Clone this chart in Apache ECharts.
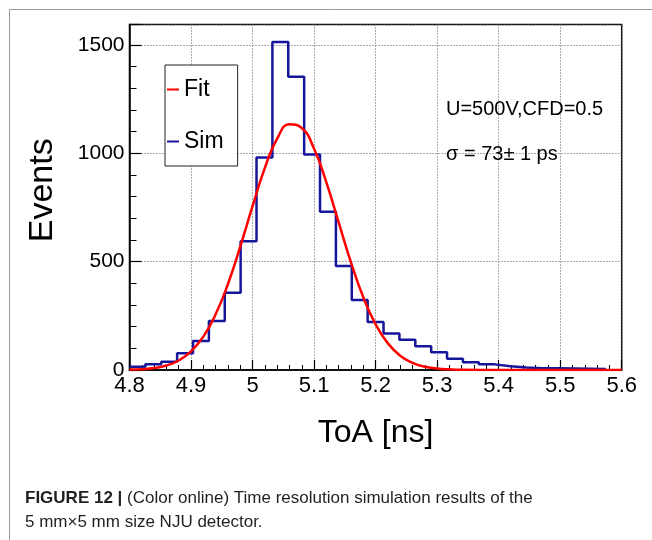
<!DOCTYPE html>
<html lang="en">

<head>
    <meta charset="UTF-8">
    <title>ToA</title>
    <style>
        html, body { margin: 0; padding: 0; background: #fff; }
        #toa-chart { width: 652px; height: 540px; }
    </style>
</head>

<body>
    <div id="toa-chart"></div>
    <script src="https://cdn.jsdelivr.net/npm/echarts@6/dist/echarts.min.js"></script>
    <script type="text/javascript">

        // histogram: 30 bins starting at 4.8 ns
        var binStart = 4.8;
        var binWidth = 0.8 / 31;
        var simCounts = [15, 26, 38, 77, 134, 226, 357, 594, 981, 1514, 1354, 995, 731, 480, 323,
            222, 169, 140, 110, 82, 52, 36, 26, 17, 12, 8, 8, 7, 6, 5];

        // fit curve
        var fitX = [4.80, 4.82, 4.84, 4.86, 4.88, 4.90, 4.92, 4.94, 4.96, 4.98, 5.00, 5.02, 5.04, 5.06,
            5.08, 5.10, 5.12, 5.14, 5.16, 5.18, 5.20, 5.22, 5.24, 5.26, 5.28, 5.30, 5.32, 5.34, 5.40, 5.50, 5.60];
        var fitY = [2, 4, 9, 21, 44, 86, 154, 257, 397, 569, 756, 933, 1068, 1134,
            1117, 1021, 866, 681, 497, 336, 211, 123, 66, 33, 15, 7, 3, 1, 0, 0, 0];

        var xTicks = [4.8, 5.6, 0.1];   // min, max, step
        var yTicks = [0, 1595, 500];

        var font = 'Liberation Sans, Arial, sans-serif';

        var simData = [];
        for (var i = 0; i < simCounts.length; i++) {
            simData.push([binStart + i * binWidth, simCounts[i]]);
        }
        simData.push([binStart + simCounts.length * binWidth, simCounts[simCounts.length - 1]]);

        var fitData = [];
        for (var j = 0; j < fitX.length; j++) {
            fitData.push([fitX[j], fitY[j]]);
        }

        var chart = echarts.init(document.getElementById('toa-chart'));

        var option = {
            animation: false,
            textStyle: { fontFamily: font },
            title: [
                {
                    text: 'U=500V,CFD=0.5', left: 446, top: 99, padding: 0,
                    textStyle: { fontSize: 20, fontWeight: 'normal', color: '#000', fontFamily: font }
                },
                {
                    text: 'σ = 73± 1 ps', left: 446, top: 144, padding: 0,
                    textStyle: { fontSize: 20, fontWeight: 'normal', color: '#000', fontFamily: font }
                }
            ],
            legend: {
                orient: 'vertical',
                left: 165,
                top: 65,
                padding: [13, 14, 13, 2],
                itemGap: 29,
                itemWidth: 12,
                itemHeight: 2,
                backgroundColor: '#fff',
                borderColor: '#222',
                borderWidth: 1,
                borderRadius: 0,
                textStyle: { fontSize: 23, color: '#000', fontFamily: font },
                data: [{ name: 'Fit', icon: 'rect' }, { name: 'Sim', icon: 'rect' }]
            },
            grid: {
                left: 129.5,
                right: 30.3,
                top: 24.5,
                bottom: 170,
                show: true,
                borderColor: '#000',
                borderWidth: 1.5,
                backgroundColor: 'transparent'
            },
            xAxis: {
                type: 'value',
                min: xTicks[0],
                max: xTicks[1],
                interval: xTicks[2],
                axisLine: { show: true, onZero: false, lineStyle: { color: '#000', width: 1.5 } },
                axisTick: { inside: true, length: 10, lineStyle: { color: '#000', width: 1.2 } },
                minorTick: { show: true, splitNumber: 5, length: 5, lineStyle: { color: '#000', width: 1 } },
                axisLabel: { fontSize: 22, color: '#000', margin: 5, fontFamily: font },
                splitLine: { show: true, lineStyle: { color: '#555', type: [1, 2], width: 1 } },
                name: 'ToA [ns]',
                nameLocation: 'middle',
                nameGap: 47,
                nameTextStyle: { fontSize: 32, color: '#000', fontFamily: font }
            },
            yAxis: [
                {
                    type: 'value',
                    min: yTicks[0],
                    max: yTicks[1],
                    interval: yTicks[2],
                    position: 'left',
                    axisLine: { show: true, lineStyle: { color: '#000', width: 1.5 } },
                    axisTick: { inside: true, length: 12, lineStyle: { color: '#000', width: 1.2 } },
                    axisLabel: {
                        fontSize: 21, color: '#000', margin: 5, fontFamily: font,
                        formatter: function (v) { return v % 500 === 0 ? v : ''; }
                    },
                    splitLine: { show: true, lineStyle: { color: '#555', type: [1, 2], width: 1 } },
                    name: 'Events',
                    nameLocation: 'middle',
                    nameRotate: 90,
                    nameGap: 70,
                    nameTextStyle: { fontSize: 34, color: '#000', fontFamily: font, padding: [0, 0, 0, 14] }
                },
                {
                    // minor ticks every 100
                    type: 'value',
                    min: yTicks[0],
                    max: yTicks[1],
                    interval: 100,
                    position: 'left',
                    axisLine: { show: false },
                    axisTick: { inside: true, length: 7, lineStyle: { color: '#000', width: 1 } },
                    axisLabel: { show: false },
                    splitLine: { show: false }
                }
            ],
            series: [
                {
                    name: 'Sim',
                    type: 'line',
                    step: 'end',
                    symbol: 'none',
                    data: simData,
                    color: '#16169c',
                    lineStyle: { color: '#16169c', width: 2.5 },
                    z: 3
                },
                {
                    name: 'Fit',
                    type: 'line',
                    smooth: true,
                    symbol: 'none',
                    data: fitData,
                    color: '#ff0000',
                    lineStyle: { color: '#ff0000', width: 2.5 },
                    z: 4
                }
            ],
            graphic: [
                {
                    type: 'polyline',
                    shape: { points: [[9.5, 540], [9.5, 9.5], [652, 9.5]] },
                    style: { stroke: '#999', lineWidth: 1, fill: null },
                    silent: true
                },
                {
                    type: 'text',
                    left: 25,
                    top: 486,
                    style: {
                        text: '{b|FIGURE 12 |} (Color online) Time resolution simulation results of the\n5 mm×5 mm size NJU detector.',
                        fontSize: 17,
                        fontFamily: font,
                        lineHeight: 24,
                        fill: '#231f20',
                        rich: {
                            b: { fontWeight: 'bold', fontSize: 17, fontFamily: font, fill: '#231f20' }
                        }
                    },
                    silent: true
                }
            ]
        };

        chart.setOption(option);

    </script>
</body>

</html>
